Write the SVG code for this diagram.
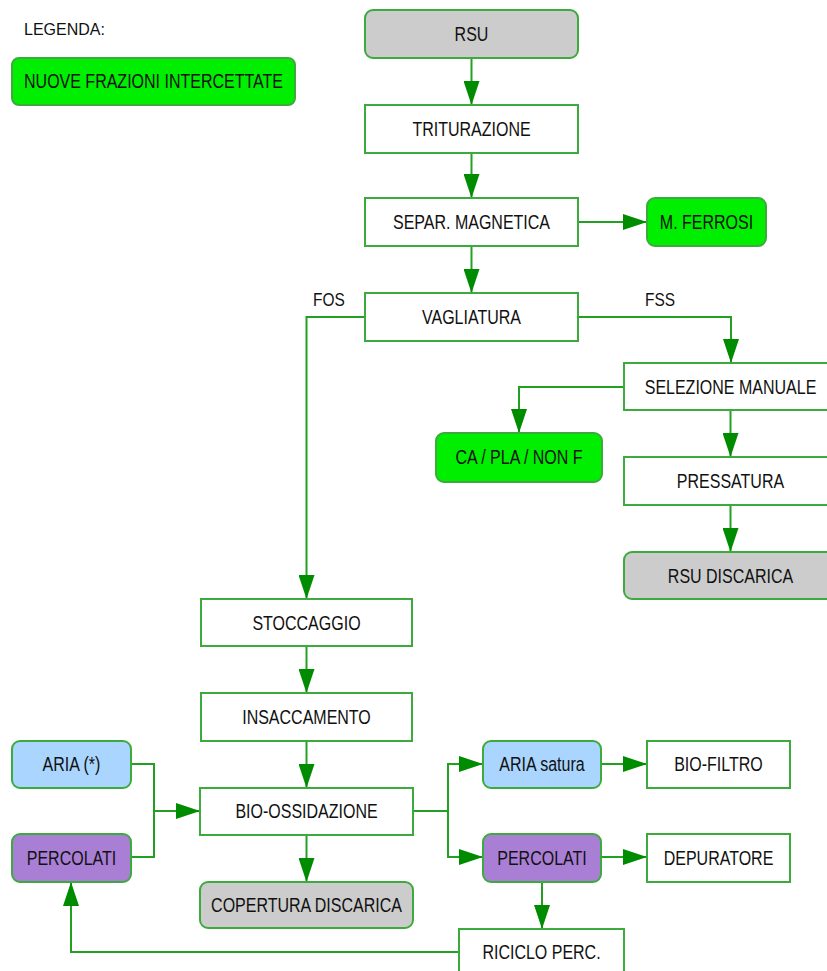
<svg xmlns="http://www.w3.org/2000/svg" width="827" height="971" viewBox="0 0 827 971">
<style>
.bx{fill:#ffffff;stroke:#3daa3d;stroke-width:2}
.green{fill:#00ee00}
.gray{fill:#cccccc}
.blue{fill:#a9d5ff}
.purple{fill:#a97fd6}
.c{fill:none;stroke:#22a022;stroke-width:2}
.t{font-family:"Liberation Sans",Arial,sans-serif;font-size:20px;fill:#111111;text-anchor:middle}
.s{font-family:"Liberation Sans",Arial,sans-serif;font-size:18px;fill:#111111}
.l{font-family:"Liberation Sans",Arial,sans-serif;font-size:16px;fill:#111111}
</style>
<defs>
<marker id="ah" markerUnits="userSpaceOnUse" markerWidth="24" markerHeight="16" refX="24" refY="8" orient="auto">
<path d="M0,0 L24,8 L0,16 Z" fill="#008c00"/>
</marker>
</defs>
<rect width="827" height="971" fill="#ffffff"/>
<g id="connectors">
<path class="c" d="M471.5,58 V105" marker-end="url(#ah)"/>
<path class="c" d="M471.5,153 V198" marker-end="url(#ah)"/>
<path class="c" d="M578,222 H647" marker-end="url(#ah)"/>
<path class="c" d="M471.5,246 V293" marker-end="url(#ah)"/>
<path class="c" d="M578,317 H731 V363" marker-end="url(#ah)"/>
<path class="c" d="M365,317 H306.5 V599" marker-end="url(#ah)"/>
<path class="c" d="M624,387 H519 V433" marker-end="url(#ah)"/>
<path class="c" d="M730.5,410 V457" marker-end="url(#ah)"/>
<path class="c" d="M730.5,505 V552" marker-end="url(#ah)"/>
<path class="c" d="M306.5,646 V693" marker-end="url(#ah)"/>
<path class="c" d="M306.5,741 V788" marker-end="url(#ah)"/>
<path class="c" d="M131,764 H154 V857 H131"/>
<path class="c" d="M154,811 H200" marker-end="url(#ah)"/>
<path class="c" d="M306.5,835 V882" marker-end="url(#ah)"/>
<path class="c" d="M413,811 H448 V764 H483" marker-end="url(#ah)"/>
<path class="c" d="M448,811 V857 H483" marker-end="url(#ah)"/>
<path class="c" d="M601,764 H647" marker-end="url(#ah)"/>
<path class="c" d="M601,857 H647" marker-end="url(#ah)"/>
<path class="c" d="M542,882 V929" marker-end="url(#ah)"/>
<path class="c" d="M459,952 H71 V882" marker-end="url(#ah)"/>
<text class="s" transform="translate(313,306) scale(0.86,1)">FOS</text>
<text class="s" transform="translate(645,306) scale(0.86,1)">FSS</text>
</g>
<g id="legenda-label"><text class="l" x="24" y="35">LEGENDA:</text></g>
<g id="legenda">
<rect class="bx green" x="12" y="58" width="283" height="47" rx="7"/>
<text class="t" transform="translate(153.5,88) scale(0.8,1)">NUOVE FRAZIONI INTERCETTATE</text>
</g>
<g id="rsu">
<rect class="bx gray" x="365" y="10" width="213" height="48" rx="8"/>
<text class="t" transform="translate(471.5,41) scale(0.8,1)">RSU</text>
</g>
<g id="triturazione">
<rect class="bx" x="365" y="105" width="213" height="48"/>
<text class="t" transform="translate(471.5,136) scale(0.8,1)">TRITURAZIONE</text>
</g>
<g id="separ-magnetica">
<rect class="bx" x="365" y="198" width="213" height="48"/>
<text class="t" transform="translate(471.5,229) scale(0.8,1)">SEPAR. MAGNETICA</text>
</g>
<g id="m-ferrosi">
<rect class="bx green" x="647" y="198" width="119" height="48" rx="8"/>
<text class="t" transform="translate(706.5,229) scale(0.8,1)">M. FERROSI</text>
</g>
<g id="vagliatura">
<rect class="bx" x="365" y="293" width="213" height="48"/>
<text class="t" transform="translate(471.5,324) scale(0.8,1)">VAGLIATURA</text>
</g>
<g id="selezione-manuale">
<rect class="bx" x="624" y="363" width="213" height="47"/>
<text class="t" transform="translate(730.5,394) scale(0.8,1)">SELEZIONE MANUALE</text>
</g>
<g id="ca-pla-non-f">
<rect class="bx green" x="436" y="433" width="166" height="49" rx="8"/>
<text class="t" transform="translate(519,464) scale(0.8,1)">CA / PLA / NON F</text>
</g>
<g id="pressatura">
<rect class="bx" x="624" y="457" width="213" height="48"/>
<text class="t" transform="translate(730.5,488) scale(0.8,1)">PRESSATURA</text>
</g>
<g id="rsu-discarica">
<rect class="bx gray" x="624" y="552" width="213" height="47" rx="8"/>
<text class="t" transform="translate(730.5,583) scale(0.8,1)">RSU DISCARICA</text>
</g>
<g id="stoccaggio">
<rect class="bx" x="201" y="599" width="211" height="47"/>
<text class="t" transform="translate(306.5,630) scale(0.8,1)">STOCCAGGIO</text>
</g>
<g id="insaccamento">
<rect class="bx" x="201" y="693" width="211" height="48"/>
<text class="t" transform="translate(306.5,724) scale(0.8,1)">INSACCAMENTO</text>
</g>
<g id="bio-ossidazione">
<rect class="bx" x="200" y="788" width="213" height="47"/>
<text class="t" transform="translate(306.5,818) scale(0.8,1)">BIO-OSSIDAZIONE</text>
</g>
<g id="aria">
<rect class="bx blue" x="12" y="741" width="119" height="47" rx="8"/>
<text class="t" transform="translate(71.5,771) scale(0.8,1)">ARIA (*)</text>
</g>
<g id="percolati-in">
<rect class="bx purple" x="12" y="834" width="119" height="48" rx="8"/>
<text class="t" transform="translate(71.5,865) scale(0.8,1)">PERCOLATI</text>
</g>
<g id="copertura-discarica">
<rect class="bx gray" x="200" y="882" width="213" height="46" rx="8"/>
<text class="t" transform="translate(306.5,912) scale(0.8,1)">COPERTURA DISCARICA</text>
</g>
<g id="aria-satura">
<rect class="bx blue" x="483" y="741" width="118" height="47" rx="8"/>
<text class="t" transform="translate(542,771) scale(0.8,1)">ARIA satura</text>
</g>
<g id="percolati-out">
<rect class="bx purple" x="483" y="834" width="118" height="48" rx="8"/>
<text class="t" transform="translate(542,865) scale(0.8,1)">PERCOLATI</text>
</g>
<g id="bio-filtro">
<rect class="bx" x="647" y="741" width="143" height="47"/>
<text class="t" transform="translate(718.5,771) scale(0.8,1)">BIO-FILTRO</text>
</g>
<g id="depuratore">
<rect class="bx" x="647" y="834" width="143" height="48"/>
<text class="t" transform="translate(718.5,865) scale(0.8,1)">DEPURATORE</text>
</g>
<g id="riciclo-perc">
<rect class="bx" x="459" y="929" width="165" height="60"/>
<text class="t" transform="translate(541.5,959) scale(0.8,1)">RICICLO PERC.</text>
</g>
</svg>
